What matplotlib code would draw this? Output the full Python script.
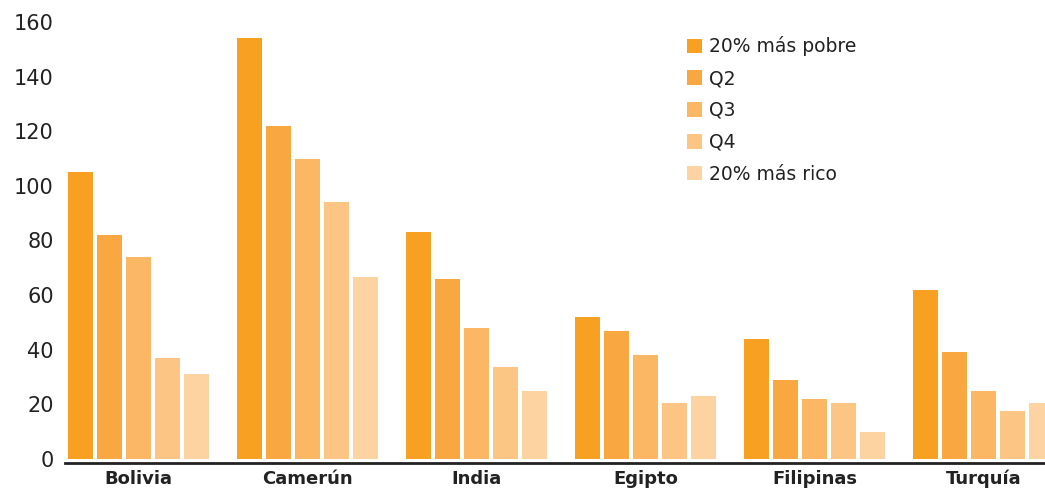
import matplotlib
matplotlib.use("Agg")
import matplotlib.pyplot as plt
import numpy as np
from matplotlib.patches import Patch

countries = ["Bolivia", "Camerún", "India", "Egipto", "Filipinas", "Turquía"]
series_names = ["20% más pobre", "Q2", "Q3", "Q4", "20% más rico"]
q1 = [105, 154, 83, 52, 44, 62]
q2 = [82, 122, 66, 47, 29, 39]
q3 = [74, 110, 48, 38, 22, 25]
q4 = [37, 94, 33.5, 20.5, 20.5, 17.5]
q5 = [31, 66.5, 25, 23, 10, 20.5]
series = [q1, q2, q3, q4, q5]
colors = ["#F7A021", "#F9A841", "#FBB763", "#FDC583", "#FDD4A1"]
yticks = [0, 20, 40, 60, 80, 100, 120, 140, 160]

plt.rcParams['font.family'] = ['DejaVu Sans']

fig = plt.figure(figsize=(10.45, 4.91), dpi=100)
W, H = 1045, 491
ax = fig.add_axes([65 / W, (H - 463) / H, (W - 65) / W, (463 - 22) / H])

group_step = 5.83
bar_step = 1.0
bar_w = 0.86
x0 = np.arange(len(countries)) * group_step
for j, (vals, c) in enumerate(zip(series, colors)):
    ax.bar(x0 + j * bar_step, vals, width=bar_w, color=c, align='edge',
           label=series_names[j], linewidth=0)

ax.set_ylim(-1.5, 160)
ax.set_xlim(-0.1, (W - 65) / 29 - 0.1)
ax.set_yticks(yticks)
ax.set_yticklabels([str(v) for v in yticks], fontsize=15, color="#222222")
ax.set_xticks(x0 + 2 * bar_step + bar_w / 2)
ax.set_xticklabels(countries, fontsize=13, fontweight='bold', color="#222222")
ax.tick_params(axis='both', length=0)
ax.tick_params(axis='y', pad=8)
ax.tick_params(axis='x', pad=5)
for s in ["top", "right", "left"]:
    ax.spines[s].set_visible(False)
ax.spines["bottom"].set_linewidth(2)
ax.spines["bottom"].set_color("#222222")

handles = [Patch(facecolor=c, edgecolor='none') for c in colors]
leg = fig.legend(handles, series_names, loc='upper left',
                 bbox_to_anchor=(679 / W, 1 - 29 / H), frameon=False,
                 fontsize=13.5, handlelength=0.85, handleheight=0.85,
                 handletextpad=0.35, labelspacing=0.68, borderaxespad=0)
for t in leg.get_texts():
    t.set_color("#222222")

fig.savefig("out.png", dpi=100)
